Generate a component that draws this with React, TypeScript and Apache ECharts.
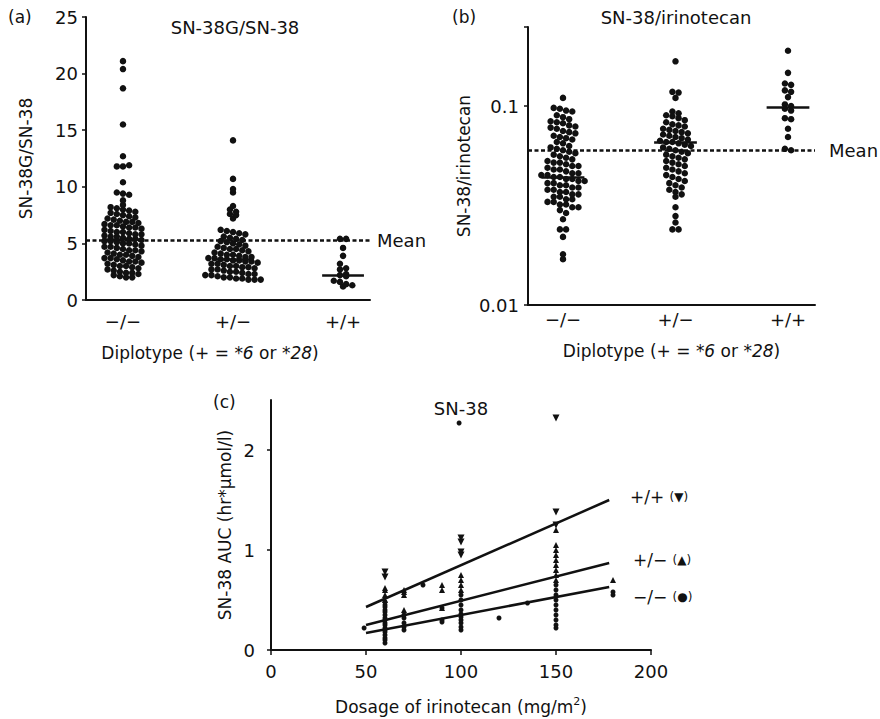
import React, { useEffect, useRef } from 'react';
import * as echarts from 'echarts';

// ---------- data ----------
const categories = ['−/−', '+/−', '+/+'];

// (a) SN-38G/SN-38 ratio by diplotype
const ratioA_WT = [21.1, 20.4, 18.7, 15.5, 12.7, 11.8, 11.8, 11.9, 10.4, 9.5, 9.4, 9.3, 8.8, 8.4, 8.2, 8.1, 8.0, 7.9, 7.8, 7.7, 7.6, 7.5, 7.4, 7.3, 7.2, 7.1, 7.0, 6.9, 6.9, 6.8, 6.7, 6.6, 6.6, 6.5, 6.4, 6.4, 6.3, 6.2, 6.1, 6.0, 6.0, 5.9, 5.8, 5.8, 5.7, 5.6, 5.6, 5.5, 5.4, 5.4, 5.3, 5.2, 5.2, 5.1, 5.0, 5.0, 4.9, 4.8, 4.7, 4.7, 4.6, 4.5, 4.4, 4.4, 4.3, 4.2, 4.1, 4.0, 4.0, 3.9, 3.8, 3.7, 3.7, 3.6, 3.5, 3.4, 3.4, 3.3, 3.2, 3.1, 3.0, 3.0, 2.9, 2.8, 2.7, 2.6, 2.5, 2.4, 2.4, 2.3, 2.2, 2.1, 2.0, 2.0];
const ratioA_Het = [14.1, 10.7, 9.8, 9.5, 8.3, 8.0, 7.8, 7.6, 7.5, 7.2, 6.2, 6.1, 6.0, 5.9, 5.8, 5.6, 5.5, 5.4, 5.3, 5.2, 5.1, 5.0, 4.9, 4.8, 4.7, 4.6, 4.5, 4.5, 4.4, 4.3, 4.2, 4.1, 4.0, 4.0, 3.9, 3.8, 3.8, 3.7, 3.7, 3.6, 3.6, 3.5, 3.5, 3.4, 3.4, 3.3, 3.2, 3.2, 3.1, 3.0, 3.0, 2.9, 2.9, 2.8, 2.7, 2.7, 2.6, 2.5, 2.5, 2.4, 2.3, 2.3, 2.2, 2.2, 2.1, 2.0, 2.0, 1.9, 1.9, 1.8, 1.8, 1.8];
const ratioA_Hom = [5.4, 5.4, 4.6, 3.9, 3.2, 2.8, 2.7, 2.3, 2.2, 2.1, 1.7, 1.6, 1.4, 1.3, 1.2];
const medianA = [5.35, 3.6, 2.2];
const meanA = 5.3;

// (b) SN-38/irinotecan ratio by diplotype
const ratioB_WT = [0.11, 0.098, 0.097, 0.095, 0.094, 0.09, 0.088, 0.086, 0.084, 0.083, 0.082, 0.08, 0.079, 0.078, 0.077, 0.075, 0.074, 0.073, 0.071, 0.07, 0.069, 0.068, 0.066, 0.065, 0.063, 0.062, 0.061, 0.06, 0.059, 0.058, 0.057, 0.056, 0.055, 0.054, 0.053, 0.052, 0.052, 0.051, 0.05, 0.05, 0.049, 0.048, 0.048, 0.047, 0.046, 0.046, 0.045, 0.045, 0.044, 0.044, 0.043, 0.043, 0.042, 0.042, 0.041, 0.041, 0.04, 0.04, 0.039, 0.039, 0.038, 0.038, 0.037, 0.037, 0.036, 0.036, 0.035, 0.035, 0.034, 0.034, 0.033, 0.033, 0.032, 0.032, 0.031, 0.031, 0.03, 0.029, 0.027, 0.024, 0.024, 0.022, 0.018, 0.017];
const ratioB_Het = [0.168, 0.118, 0.117, 0.11, 0.094, 0.092, 0.09, 0.089, 0.087, 0.085, 0.083, 0.081, 0.08, 0.079, 0.077, 0.076, 0.075, 0.074, 0.073, 0.072, 0.071, 0.07, 0.069, 0.068, 0.067, 0.066, 0.066, 0.065, 0.064, 0.063, 0.062, 0.061, 0.06, 0.059, 0.058, 0.057, 0.056, 0.055, 0.054, 0.053, 0.052, 0.051, 0.05, 0.049, 0.048, 0.047, 0.046, 0.045, 0.044, 0.043, 0.042, 0.041, 0.04, 0.039, 0.038, 0.037, 0.036, 0.035, 0.031, 0.028, 0.026, 0.024, 0.024];
const ratioB_Hom = [0.19, 0.147, 0.13, 0.128, 0.12, 0.118, 0.111, 0.102, 0.1, 0.097, 0.095, 0.087, 0.086, 0.077, 0.07, 0.061, 0.06];
const medianB = [0.044, 0.066, 0.099];
const meanB = 0.058;

// (c) SN-38 AUC vs dosage: [dose mg/m2, AUC]
const aucWT = [
  [60, 0.07], [60, 0.1], [60, 0.12], [60, 0.15], [60, 0.18], [60, 0.2], [60, 0.22], [60, 0.25], [60, 0.27], [60, 0.3],
  [60, 0.32], [60, 0.35], [60, 0.38], [60, 0.4], [60, 0.43], [60, 0.45], [60, 0.48],
  [70, 0.2], [70, 0.23], [70, 0.27], [70, 0.32], [70, 0.35],
  [80, 0.65], [90, 0.28], [90, 0.3], [90, 0.42],
  [100, 0.2], [100, 0.23], [100, 0.27], [100, 0.3], [100, 0.33], [100, 0.36], [100, 0.4], [100, 0.45], [100, 0.5], [100, 0.55], [99, 2.27],
  [120, 0.32], [135, 0.47],
  [150, 0.22], [150, 0.25], [150, 0.3], [150, 0.35], [150, 0.4], [150, 0.45], [150, 0.5], [150, 0.55], [150, 0.6], [150, 0.65],
  [180, 0.58], [180, 0.55], [49, 0.22]
];
const aucHet = [
  [60, 0.5], [60, 0.55], [60, 0.6], [60, 0.62], [70, 0.4], [70, 0.55], [70, 0.58], [70, 0.6],
  [90, 0.6], [90, 0.65], [90, 0.42], [100, 0.6], [100, 0.65], [100, 0.7], [100, 0.75],
  [150, 0.7], [150, 0.75], [150, 0.8], [150, 0.85], [150, 0.9], [150, 0.95], [150, 1.0], [150, 1.05], [150, 1.2], [180, 0.7]
];
const aucHom = [[60, 0.73], [60, 0.78], [100, 0.95], [100, 0.98], [100, 1.08], [100, 1.12], [150, 1.25], [150, 1.38], [150, 2.32]];
const fitDose = [50, 178];
const fitHom = [0.43, 1.5];
const fitHet = [0.25, 0.87];
const fitWT = [0.17, 0.63];

// ---------- helpers ----------
const F = 'DejaVu Sans';
const INK = '#111111';

function swarm(values: number[], center: number, bin: number, dx: number, log = false) {
  const rows: Record<string, number[]> = {};
  values.forEach((v) => {
    const k = String(Math.round((log ? Math.log10(v) : v) / bin));
    (rows[k] = rows[k] || []).push(v);
  });
  const out: number[][] = [];
  Object.values(rows).forEach((arr) => {
    const n = arr.length;
    arr.forEach((v, i) => out.push([center + (i - (n - 1) / 2) * dx, v]));
  });
  return out;
}

const axisLine = { show: true, onZero: false, lineStyle: { color: INK, width: 2 } };
const label = (extra: any = {}) => ({ color: INK, fontSize: 18, fontFamily: F, ...extra });
const dotted = { type: [4, 2.5] as any, width: 2.5, color: INK };
const solid = { type: 'solid' as any, width: 2.5, color: INK };
const dot = { color: INK, opacity: 1 };
const diploName = '{n|Diplotype (+ = *}{i|6}{n| or *}{i|28}{n|)}';
const diploRich = {
  n: { fontSize: 17, fontFamily: F, color: INK },
  i: { fontSize: 17, fontFamily: F, color: INK, fontStyle: 'italic' },
};

function medianLines(meds: number[]) {
  return meds.map((m, i) => [
    { coord: [i - 0.19, m], lineStyle: solid, label: { show: false } },
    { coord: [i + 0.19, m] },
  ]);
}

function txt(text: string, x: number, y: number, size = 17, align = 'center', rich?: any) {
  return {
    type: 'text', x, y, silent: true,
    style: { text, fontSize: size, fontFamily: F, fill: INK, align, verticalAlign: 'middle', rich },
  };
}

export default function App() {
  const ref = useRef<HTMLDivElement>(null);
  useEffect(() => {
    if (!ref.current) return;
    const chart = echarts.init(ref.current, null, { renderer: 'svg' });
    const option: any = {
      animation: false,
      backgroundColor: '#ffffff',
      grid: [
        { left: 86, top: 17, width: 284, height: 283 },
        { left: 528, top: 27, width: 287, height: 278 },
        { left: 271, top: 400, width: 380, height: 250 },
      ],
      xAxis: [
        {
          gridIndex: 0, type: 'value', min: -0.336, max: 2.245,
          axisLine, axisTick: { show: false }, splitLine: { show: false },
          axisLabel: label({ customValues: [0, 1, 2], formatter: (v: number) => categories[Math.round(v)], margin: 12 }),
          name: diploName, nameLocation: 'middle', nameGap: 44,
          nameTextStyle: { rich: diploRich, padding: [0, 36, 0, 0] },
        },
        {
          gridIndex: 1, type: 'value', min: -0.311, max: 2.24,
          axisLine, axisTick: { show: false }, splitLine: { show: false },
          axisLabel: label({ customValues: [0, 1, 2], formatter: (v: number) => categories[Math.round(v)], margin: 5 }),
          name: diploName, nameLocation: 'middle', nameGap: 37,
          nameTextStyle: { rich: diploRich },
        },
        {
          gridIndex: 2, type: 'value', min: 0, max: 200, interval: 50,
          axisLine, axisTick: { show: true, length: 5, lineStyle: { color: INK, width: 1.5 } }, splitLine: { show: false },
          axisLabel: label({ margin: 12 }),
          name: '{n|Dosage of irinotecan (mg/m}{s|2}{n|)}', nameLocation: 'middle', nameGap: 46,
          nameTextStyle: {
            rich: {
              n: { fontSize: 17, fontFamily: F, color: INK, lineHeight: 22 },
              s: { fontSize: 11, fontFamily: F, color: INK, verticalAlign: 'top' },
            },
          },
        },
      ],
      yAxis: [
        {
          gridIndex: 0, type: 'value', min: 0, max: 25, interval: 5,
          axisLine, axisTick: { show: true, length: 4, lineStyle: { color: INK, width: 1.5 } }, splitLine: { show: false },
          axisLabel: label({ margin: 8 }),
          name: 'SN-38G/SN-38', nameLocation: 'middle', nameRotate: 90, nameGap: 52,
          nameTextStyle: { fontSize: 17, fontFamily: F, color: INK },
        },
        {
          gridIndex: 1, type: 'log', logBase: 10, min: 0.01, max: 0.25,
          axisLine, axisTick: { show: true, length: 4, lineStyle: { color: INK, width: 1.5 } }, splitLine: { show: false },
          axisLabel: label({
            margin: 9,
            formatter: (v: number) => (Math.abs(v - 0.01) < 1e-6 ? '0.01' : Math.abs(v - 0.1) < 1e-6 ? '0.1' : ''),
          }),
          name: 'SN-38/irinotecan', nameLocation: 'middle', nameRotate: 90, nameGap: 56,
          nameTextStyle: { fontSize: 17, fontFamily: F, color: INK },
        },
        {
          gridIndex: 2, type: 'value', min: 0, max: 2.5,
          axisLine, splitLine: { show: false },
          axisTick: { show: true, length: 4, customValues: [0, 1, 2], lineStyle: { color: INK, width: 1.5 } },
          axisLabel: label({ customValues: [0, 1, 2], margin: 16 }),
          name: 'SN-38 AUC (hr*µmol/l)', nameLocation: 'middle', nameRotate: 90, nameGap: 38,
          nameTextStyle: { fontSize: 17, fontFamily: F, color: INK },
        },
      ],
      series: [
        {
          type: 'scatter', xAxisIndex: 0, yAxisIndex: 0, symbolSize: 6.5,
          itemStyle: dot,
          data: [
            ...swarm(ratioA_WT, 0, 0.5, 0.056),
            ...swarm(ratioA_Het, 1, 0.5, 0.056),
            ...swarm(ratioA_Hom, 2, 0.5, 0.056),
          ],
          markLine: {
            silent: true, symbol: 'none', animation: false,
            data: [
              {
                yAxis: meanA, lineStyle: dotted,
                label: { show: true, position: 'end', formatter: 'Mean', distance: 7, fontSize: 18, fontFamily: F, color: INK },
              },
              ...medianLines(medianA),
            ],
          },
        },
        {
          type: 'scatter', xAxisIndex: 1, yAxisIndex: 1, symbolSize: 6.5,
          itemStyle: dot,
          data: [
            ...swarm(ratioB_WT, 0, 0.034, 0.055, true),
            ...swarm(ratioB_Het, 1, 0.034, 0.055, true),
            ...swarm(ratioB_Hom, 2, 0.034, 0.055, true),
          ],
          markLine: {
            silent: true, symbol: 'none', animation: false,
            data: [
              {
                yAxis: meanB, lineStyle: dotted,
                label: { show: true, position: 'end', formatter: 'Mean', distance: 14, fontSize: 18, fontFamily: F, color: INK },
              },
              ...medianLines(medianB),
            ],
          },
        },
        {
          type: 'scatter', xAxisIndex: 2, yAxisIndex: 2, symbol: 'circle', symbolSize: 5,
          itemStyle: dot, data: aucWT,
        },
        {
          type: 'scatter', xAxisIndex: 2, yAxisIndex: 2, symbol: 'triangle', symbolSize: 6,
          itemStyle: dot, data: aucHet,
        },
        {
          type: 'scatter', xAxisIndex: 2, yAxisIndex: 2, symbol: 'triangle', symbolRotate: 180, symbolSize: 7,
          itemStyle: dot, data: aucHom,
        },
        ...[fitHom, fitHet, fitWT].map((fit) => ({
          type: 'line', xAxisIndex: 2, yAxisIndex: 2, symbol: 'none',
          lineStyle: { color: INK, width: 2.5 },
          data: fitDose.map((d, i) => [d, fit[i]]),
        })),
      ],
      graphic: [
        txt('(a)', 8, 17, 17, 'left'),
        txt('SN-38G/SN-38', 235, 27, 18),
        txt('(b)', 452, 17, 17, 'left'),
        txt('SN-38/irinotecan', 676, 17, 18),
        txt('(c)', 213, 402, 17, 'left'),
        txt('SN-38', 461, 408, 18),
        txt('+/+ {s|(▼)}', 630, 497, 17, 'left', { s: { fontSize: 12, fontFamily: F, fill: INK } }),
        txt('+/− {s|(▲)}', 633, 560, 17, 'left', { s: { fontSize: 12, fontFamily: F, fill: INK } }),
        txt('−/− {s|(●)}', 633, 597, 17, 'left', { s: { fontSize: 12, fontFamily: F, fill: INK } }),
      ],
    };
    chart.setOption(option);
    return () => chart.dispose();
  }, []);
  return (
    <div
      ref={ref}
      style={{ position: 'fixed', left: 0, top: 0, width: 880, height: 719, background: '#fff' }}
    />
  );
}
